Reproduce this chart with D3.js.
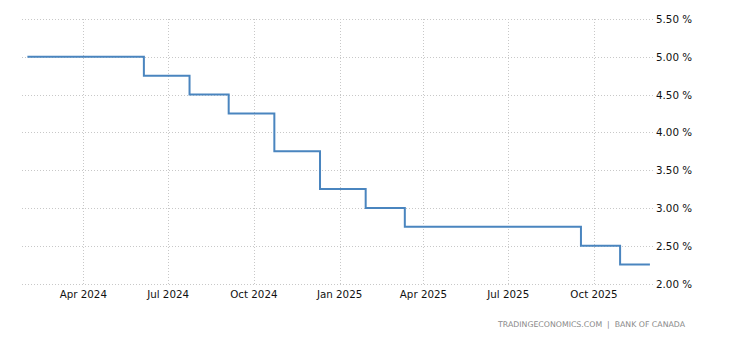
<!DOCTYPE html>
<html lang="en">
<head>
<meta charset="UTF-8">
<title>Bank of Canada interest rate</title>
<script src="https://cdn.jsdelivr.net/npm/d3@7"></script>
<style>
  body { margin: 0; background: #fff; }
  text { font-family: "DejaVu Sans", sans-serif; }
</style>
</head>
<body>
<div id="chart"></div>
<script>
// policy rate changes (date of decision, rate in %)
let dates = ["2024-02-01", "2024-06-05", "2024-07-24", "2024-09-04", "2024-10-23",
             "2024-12-11", "2025-01-29", "2025-03-12", "2025-09-17", "2025-10-29", "2025-11-30"]
let rates = [5.00, 4.75, 4.50, 4.25, 3.75, 3.25, 3.00, 2.75, 2.50, 2.25, 2.25]

let yTicks = [2.0, 2.5, 3.0, 3.5, 4.0, 4.5, 5.0, 5.5]
let xTicks = ["2024-04-01", "2024-07-01", "2024-10-01", "2025-01-01",
              "2025-04-01", "2025-07-01", "2025-10-01"]
let source = "TRADINGECONOMICS.COM  |  BANK OF CANADA"

let width = 730, height = 340
let parse = d3.timeParse("%Y-%m-%d")
let data = dates.map((d, i) => ({date: parse(d), value: rates[i]}))

// scale anchored on the tick positions of the original picture
let x = d3.scaleTime()
    .domain([parse("2024-04-01"), parse("2025-10-01")])
    .range([83.3, 594])
let y = d3.scaleLinear()
    .domain([2.0, 5.5])
    .range([283.5, 19])

let svg = d3.select("#chart").append("svg")
    .attr("width", width)
    .attr("height", height)

// horizontal grid
svg.append("g")
    .selectAll("line")
    .data(yTicks)
    .enter()
    .append("line")
    .attr("x1", 22)
    .attr("x2", 653)
    .attr("y1", d => Math.round(y(d)) + 0.5)
    .attr("y2", d => Math.round(y(d)) + 0.5)
    .attr("stroke", "#c8c8c8")
    .attr("stroke-dasharray", "1,2")

// vertical grid
svg.append("g")
    .selectAll("line")
    .data(xTicks)
    .enter()
    .append("line")
    .attr("x1", d => Math.round(x(parse(d))) + 0.5)
    .attr("x2", d => Math.round(x(parse(d))) + 0.5)
    .attr("y1", y(5.5))
    .attr("y2", y(2.0) + 1)
    .attr("stroke", "#c8c8c8")
    .attr("stroke-dasharray", "1,2")

// y labels on the right
svg.append("g")
    .selectAll("text")
    .data(yTicks)
    .enter()
    .append("text")
    .attr("x", 656)
    .attr("y", d => y(d) + 4)
    .attr("font-size", "10.3px")
    .attr("fill", "#111")
    .text(d => d3.format(".2f")(d) + " %")

// x labels
let fmt = d3.timeFormat("%b %Y")
svg.append("g")
    .selectAll("text")
    .data(xTicks)
    .enter()
    .append("text")
    .attr("x", d => x(parse(d)))
    .attr("y", 298)
    .attr("text-anchor", "middle")
    .attr("font-size", "10.3px")
    .attr("fill", "#111")
    .text(d => fmt(parse(d)))

// step line
let line = d3.line()
    .curve(d3.curveStepAfter)
    .x(d => x(d.date))
    .y(d => y(d.value))

svg.append("path")
    .datum(data)
    .attr("d", line)
    .attr("fill", "none")
    .attr("stroke", "#4a85bf")
    .attr("stroke-width", 2)

svg.append("text")
    .attr("x", 685)
    .attr("y", 327)
    .attr("text-anchor", "end")
    .attr("font-size", "7.8px")
    .attr("fill", "#8a8a8a")
    .attr("xml:space", "preserve")
    .text(source)
</script>
</body>
</html>
